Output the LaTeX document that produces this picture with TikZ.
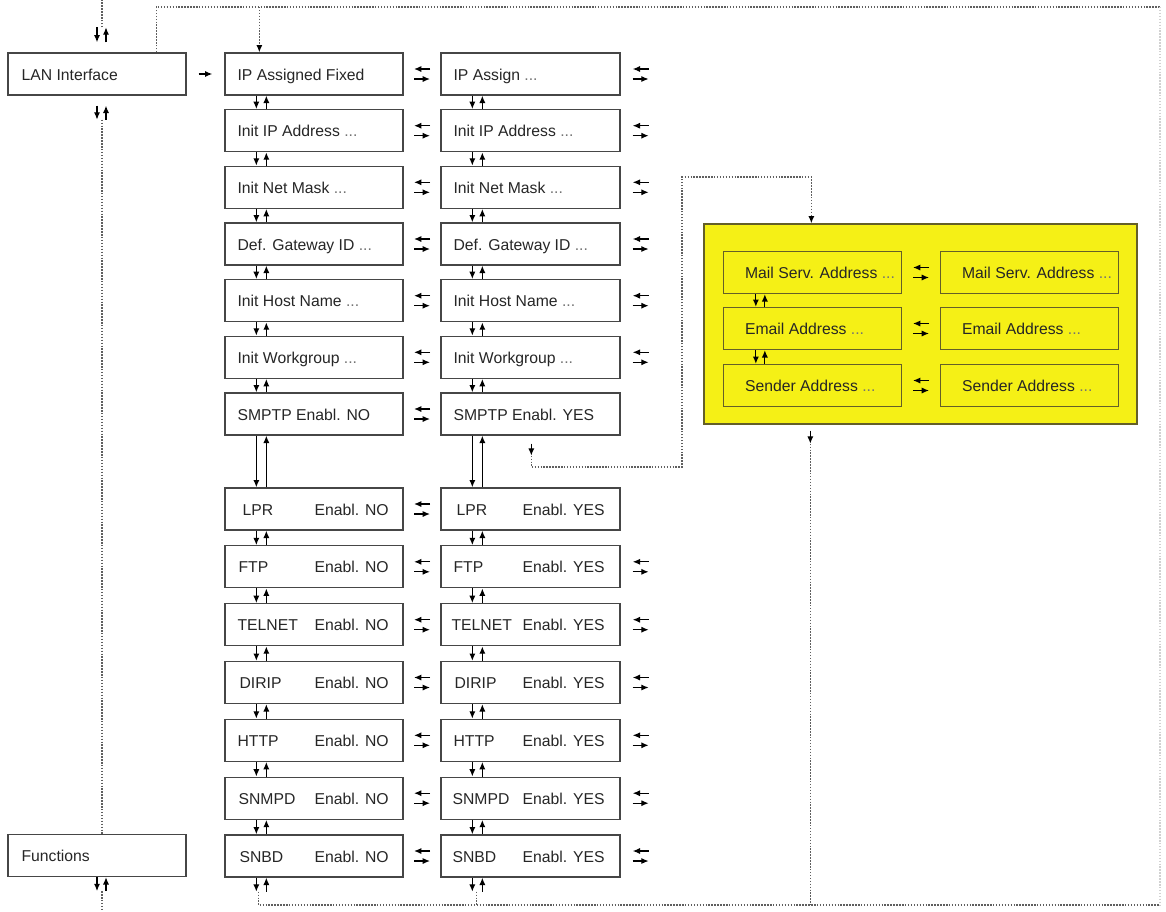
\documentclass[tikz,border=0pt]{standalone}
\usepackage{fontspec}
\setmainfont{Liberation Sans}
\usetikzlibrary{arrows.meta,calc}
\definecolor{boxline}{RGB}{70,70,70}
\definecolor{ylw}{RGB}{245,240,22}
\definecolor{ylwline}{RGB}{100,95,40}
\definecolor{dotc}{RGB}{95,95,95}
\newcommand\ellip{{\color{black!55}...}}
\begin{document}
\begin{tikzpicture}[x=0.75pt,y=-0.75pt,
  box/.style={draw=boxline,line width=1pt,fill=white,minimum width=133.5pt,minimum height=31.5pt,inner sep=0pt},
  ybox/.style={box,fill=ylw,draw=ylwline},
  txt/.style={anchor=base west,inner sep=0pt,text=black!85,font=\fontsize{11.8}{14}\selectfont},
  arr/.style={line width=0.95pt,-{Latex[length=5.5pt,width=4.6pt]}},
  dotline/.style={draw=dotc,line width=1pt,dash pattern=on 1.1pt off 1.1pt},
  dottip/.style={dotline,-{Latex[length=5.5pt,width=4.6pt,color=black]}},
  faint/.style={draw=black!18,line width=0.8pt,dash pattern=on 1.1pt off 1.1pt},
  swp/.pic={\draw[arr] (8,-5) -- (-8,-5); \draw[arr] (-8,5) -- (8,5);}
]
\useasboundingbox (0,0) rectangle (1166,911);

% left column
\node[box] (lan) at (97,74) {};
\node[txt] at ($(lan.west)+(14,6)$) {LAN Interface};
\node[box] (fun) at (97,855.5) {};
\node[txt] at ($(fun.west)+(14,6)$) {Functions};

% upper rows
\foreach \i/\y/\ta/\tb in {
  1/74/IP Assigned Fixed/IP Assign \ellip,
  2/130.7/Init IP Address \ellip/Init IP Address \ellip,
  3/187.3/Init Net Mask \ellip/Init Net Mask \ellip,
  4/244/Def. Gateway ID \ellip/Def. Gateway ID \ellip,
  5/300.7/Init Host Name \ellip/Init Host Name \ellip,
  6/357.3/Init Workgroup \ellip/Init Workgroup \ellip,
  7/414/SMPTP Enabl. NO/SMPTP Enabl. YES}{
  \node[box] (a\i) at (314,\y) {};
  \node[box,minimum width=134.25pt] (b\i) at (530.5,\y) {};
  \node[txt] at ($(a\i.west)+(13,6)$) {\ta};
  \node[txt] at ($(b\i.west)+(13,6)$) {\tb};
}

% lower rows
\foreach \i/\y/\w/\o/\p in {
  8/509/LPR/18/16,
  9/566.8/FTP/14/13,
  10/624.7/TELNET/13/11,
  11/682.5/DIRIP/15/14,
  12/740.3/HTTP/13/13,
  13/798.2/SNMPD/14/12,
  14/856/SNBD/15/12}{
  \node[box] (a\i) at (314,\y) {};
  \node[box,minimum width=134.25pt] (b\i) at (530.5,\y) {};
  \node[txt] at ($(a\i.west)+(\o,6)$) {\w};
  \node[txt] at ($(a\i.west)+(90,6)$) {Enabl. NO};
  \node[txt] at ($(b\i.west)+(\p,6)$) {\w};
  \node[txt] at ($(b\i.west)+(82,6)$) {Enabl. YES};
}

% yellow area
\node[draw=ylwline,fill=ylw,line width=1pt,minimum width=324.75pt,minimum height=150pt,inner sep=0pt] (ybig) at (920.5,324) {};
\foreach \i/\y/\t in {1/272.5/Mail Serv. Address \ellip, 2/328.5/Email Address \ellip, 3/385.5/Sender Address \ellip}{
  \node[ybox] (ya\i) at (812.5,\y) {};
  \node[ybox] (yb\i) at (1029.5,\y) {};
  \node[txt] at ($(ya\i.west)+(22,6)$) {\t};
  \node[txt] at ($(yb\i.west)+(22,6)$) {\t};
  \pic at ($(ya\i.east)!0.5!(yb\i.west)$) {swp};
}
\foreach \i/\j in {1/2,2/3}{
  \draw[arr] ($(ya\i.south west)+(33,0)$) -- ($(ya\j.north west)+(33,0)$);
  \draw[arr] ($(ya\j.north west)+(42,0)$) -- ($(ya\i.south west)+(42,0)$);
}

% vertical arrows between rows
\foreach \i/\j in {1/2,2/3,3/4,4/5,5/6,6/7,7/8,8/9,9/10,10/11,11/12,12/13,13/14}{
  \foreach \c in {a,b}{
    \draw[arr] ($(\c\i.south west)+(32,0)$) -- ($(\c\j.north west)+(32,0)$);
    \draw[arr] ($(\c\j.north west)+(42,0)$) -- ($(\c\i.south west)+(42,0)$);
  }
}

% swap symbols
\foreach \i in {1,...,14}{
  \pic at ($(a\i.east)!0.5!(b\i.west)$) {swp};
}
\foreach \i in {1,2,3,4,5,6,9,10,11,12,13,14}{
  \pic at ($(b\i.east)+(20,0)$) {swp};
}

% LAN -> IP Assigned Fixed
\draw[arr] ($(lan.east)+(12,0)$) -- ($(a1.west)+(-12,0)$);

% left column arrows and dotted line
\draw[arr] ($(lan.north)+(0,-25)$) -- ++(0,15);
\draw[arr] ($(lan.north)+(9,-10)$) -- ++(0,-15);
\coordinate (lt) at ($(lan.north)+(5,-25)$);
\draw[dotline] (lt) -- (lt |- 0,0);
\draw[arr] ($(lan.south)+(0,10)$) -- ++(0,14);
\draw[arr] ($(lan.south)+(9,24)$) -- ++(0,-14);
\coordinate (lb) at ($(lan.south)+(5,24)$);
\draw[dotline] (lb) -- (lb |- fun.north);
\draw[arr] (fun.south) -- ++(0,14);
\draw[arr] ($(fun.south)+(9,14)$) -- ++(0,-14);
\coordinate (fb) at ($(fun.south)+(5,14)$);
\draw[dotline] (fb) -- (fb |- 0,911);

% outer loop
\coordinate (TR) at (1160,7);
\coordinate (BR) at (1160,905);
\draw[dotline] ($(lan.north west)+(149,0)$) |- (TR);
\draw[faint] (TR) -- (BR);
\coordinate (a1in) at ($(a1.north west)+(35,0)$);
\draw[dottip] (a1in |- TR) -- (a1in);

% bottom arrows below SNBD
\draw[arr] ($(a14.south west)+(32,0)$) -- ++(0,14);
\draw[arr] ($(a14.south west)+(42,14)$) -- ++(0,-14);
\draw[arr] ($(b14.south west)+(32,0)$) -- ++(0,14);
\draw[arr] ($(b14.south west)+(42,14)$) -- ++(0,-14);
\coordinate (d1) at ($(a14.south west)+(34,14)$);
\coordinate (d2) at ($(b14.south west)+(36,14)$);
\draw[dotline] (d1) |- (BR);
\draw[dotline] (d2) -- (d2 |- BR);

% SMPTP YES -> yellow area
\coordinate (s1) at ($(b7.south west)+(91,8)$);
\draw[arr] (s1) -- ++(0,12);
\coordinate (s2) at ($(s1)+(0,12)$);
\coordinate (k1) at (682,467);
\coordinate (k2) at (682,177);
\coordinate (yin) at ($(ybig.north west)+(108,0)$);
\draw[dottip] (s2) |- (k1) -- (k2) -| (yin);

% yellow area -> bottom line
\coordinate (yout) at ($(ybig.south west)+(107,6)$);
\draw[arr] (yout) -- ++(0,13);
\coordinate (yo2) at ($(yout)+(0,13)$);
\draw[dotline] (yo2) -- (yo2 |- BR);
\end{tikzpicture}
\end{document}
